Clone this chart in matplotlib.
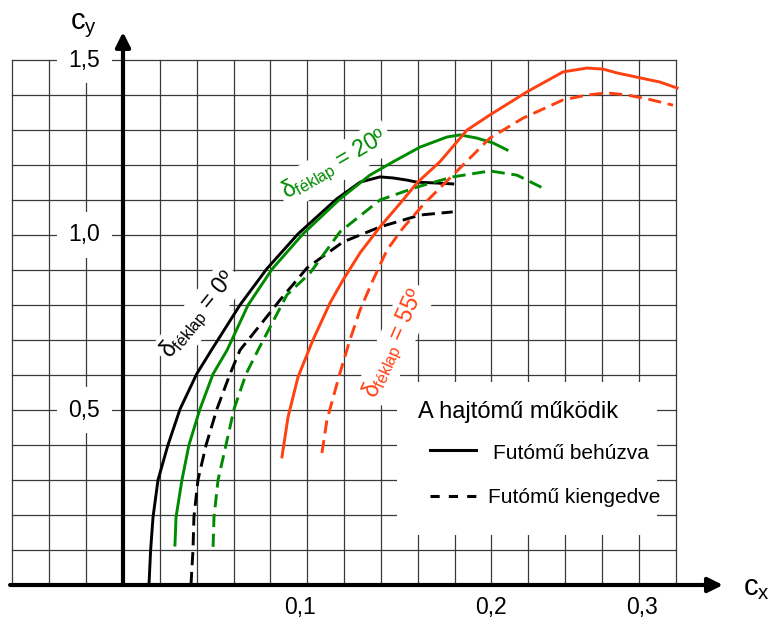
import matplotlib
matplotlib.use("Agg")
import matplotlib.pyplot as plt
from matplotlib.patches import Rectangle
import numpy as np

plt.rcParams['font.family'] = ['Liberation Sans', 'DejaVu Sans']

GREEN = '#008a00'
RED = '#ff4010'

# ---- data (cx, cy) ----
# delta_feklap = 0, landing gear retracted / extended
b0_x = [0.0141, 0.0150, 0.0163, 0.019, 0.0244, 0.031, 0.040, 0.048, 0.0635, 0.078,
        0.095, 0.116, 0.1287, 0.1395, 0.1466, 0.154, 0.1596, 0.168, 0.179]
b0_y = [0.0, 0.10, 0.194, 0.30, 0.40, 0.503, 0.603, 0.671, 0.80, 0.903,
        1.003, 1.103, 1.151, 1.166, 1.163, 1.157, 1.151, 1.149, 1.146]
k0_x = [0.0369, 0.038, 0.0385, 0.0407, 0.0451, 0.051, 0.0581, 0.0635, 0.078, 0.0852,
        0.0999, 0.1194, 0.1395, 0.1612, 0.179]
k0_y = [0.0, 0.10, 0.194, 0.30, 0.40, 0.503, 0.603, 0.671, 0.766, 0.814,
        0.906, 0.98, 1.023, 1.057, 1.066]

# delta_feklap = 20
b20_x = [0.0282, 0.0288, 0.032, 0.0358, 0.0418, 0.0489, 0.0565, 0.0679, 0.081, 0.0977,
         0.1178, 0.134, 0.1466, 0.1612, 0.1759, 0.183, 0.192, 0.2009, 0.2085]
b20_y = [0.114, 0.194, 0.30, 0.40, 0.503, 0.603, 0.671, 0.80, 0.903, 1.003,
         1.103, 1.171, 1.209, 1.251, 1.28, 1.286, 1.277, 1.263, 1.243]
k20_x = [0.0489, 0.0494, 0.0516, 0.0559, 0.0603, 0.0668, 0.0733, 0.089, 0.1015, 0.1178,
         0.1395, 0.1596, 0.179, 0.1992, 0.2139, 0.228]
k20_y = [0.109, 0.194, 0.30, 0.40, 0.503, 0.603, 0.671, 0.829, 0.891, 1.009,
         1.10, 1.137, 1.166, 1.183, 1.171, 1.134]

# delta_feklap = 55
b55_x = [0.0863, 0.0896, 0.095, 0.1031, 0.1124, 0.1194, 0.1287, 0.1395, 0.152, 0.1596,
         0.172, 0.1868, 0.1992, 0.2193, 0.2389, 0.2519, 0.2606, 0.2682, 0.2807, 0.2915, 0.3008]
b55_y = [0.366, 0.48, 0.594, 0.70, 0.806, 0.871, 0.949, 1.023, 1.10, 1.149,
         1.209, 1.30, 1.343, 1.409, 1.466, 1.477, 1.474, 1.463, 1.449, 1.437, 1.42]
k55_x = [0.108, 0.1107, 0.1178, 0.1232, 0.1287, 0.1357, 0.1433, 0.152, 0.1629, 0.1737,
         0.1846, 0.1992, 0.2172, 0.2389, 0.2519, 0.2628, 0.2736, 0.2845, 0.2986]
k55_y = [0.377, 0.471, 0.606, 0.70, 0.786, 0.871, 0.957, 1.02, 1.086, 1.143,
         1.20, 1.277, 1.334, 1.386, 1.40, 1.406, 1.40, 1.389, 1.371]

ytick_vals = [1.5, 1.0, 0.5]
ytick_labels = ['1,5', '1,0', '0,5']
xtick_vals = [0.096, 0.200, 0.282]
xtick_labels = ['0,1', '0,2', '0,3']

fig = plt.figure(figsize=(7.69, 6.23), dpi=100)
ax = fig.add_axes([0, 0, 1, 1])
ax.set_xlim(-123 / 1842, (769 - 123) / 1842)
ax.set_ylim(-38 / 350, 585 / 350)
ax.axis('off')

# grid
gx = np.arange(-0.06, 0.3001, 0.02)
gy = np.arange(0.1, 1.5001, 0.1)
for x in gx:
    ax.plot([x, x], [0, 1.5], color='#3a3a3a', lw=0.9, zorder=1)
for y in gy:
    ax.plot([-0.06, 0.30], [y, y], color='#3a3a3a', lw=0.9, zorder=1)

# axes with arrows
ax.annotate('', xy=(0.3257, 0), xytext=(-0.0613, 0),
            arrowprops=dict(arrowstyle='-|>', lw=3, color='k', mutation_scale=22,
                            shrinkA=0, shrinkB=0), zorder=5)
ax.annotate('', xy=(0, 1.58), xytext=(0, 0),
            arrowprops=dict(arrowstyle='-|>', lw=3, color='k', mutation_scale=22,
                            shrinkA=0, shrinkB=0), zorder=5)
ax.text(-0.0212, 1.597, r'$\mathregular{c_y}$', fontsize=21, ha='center', va='center')
ax.text(0.3436, -0.009, r'$\mathregular{c_x}$', fontsize=21, ha='center', va='center')

tbox = dict(facecolor='white', edgecolor='none', boxstyle='square,pad=0.5')
for v, lab in zip(ytick_vals, ytick_labels):
    ax.text(-0.021, v, lab, fontsize=16.5, ha='center', va='center', bbox=tbox, zorder=2)
for v, lab in zip(xtick_vals, xtick_labels):
    ax.text(v, -0.064, lab, fontsize=16.5, ha='center', va='center')

# curves
lw = 2.1
ds = (4.5, 2.3)
kw = dict(lw=lw, zorder=3, solid_joinstyle='round', dash_joinstyle='round')
ax.plot(b0_x, b0_y, color='k', **kw)
ax.plot(k0_x, k0_y, color='k', ls='--', dashes=ds, **kw)
ax.plot(b20_x, b20_y, color=GREEN, **kw)
ax.plot(k20_x, k20_y, color=GREEN, ls='--', dashes=ds, **kw)
ax.plot(b55_x, b55_y, color=RED, **kw)
ax.plot(k55_x, k55_y, color=RED, ls='--', dashes=ds, **kw)

# curve labels
lbox = dict(facecolor='white', edgecolor='none', boxstyle='square,pad=0.15')
ax.text(0.0413, 0.771, r'$\mathregular{δ_{féklap}}$ = 0º', fontsize=16.5, color='k',
        rotation=51, ha='center', va='center', rotation_mode='anchor', bbox=lbox, zorder=2)
ax.text(0.1151, 1.20, r'$\mathregular{δ_{féklap}}$ = 20º', fontsize=16.5, color=GREEN,
        rotation=30, ha='center', va='center', rotation_mode='anchor', bbox=lbox, zorder=2)
ax.text(0.1477, 0.691, r'$\mathregular{δ_{féklap}}$ = 55º', fontsize=16.5, color=RED,
        rotation=66, ha='center', va='center', rotation_mode='anchor', bbox=lbox, zorder=2)

# legend box
ax.add_patch(Rectangle((0.149, 0.143), 0.2899 - 0.149, 0.58 - 0.143,
                       facecolor='white', edgecolor='none', zorder=2))
ax.text(0.160, 0.494, 'A hajtómű működik', fontsize=17, ha='left', va='center', zorder=4)
ax.plot([0.1667, 0.1916], [0.386, 0.386], color='k', lw=2.2, zorder=4)
ax.plot([0.1667, 0.1927], [0.254, 0.254], color='k', lw=2.2, ls='--', dashes=(3, 3), zorder=4)
ax.text(0.2009, 0.377, 'Futómű behúzva', fontsize=15, ha='left', va='center', zorder=4)
ax.text(0.1982, 0.251, 'Futómű kiengedve', fontsize=15, ha='left', va='center', zorder=4)

fig.savefig('out.png', dpi=100)
